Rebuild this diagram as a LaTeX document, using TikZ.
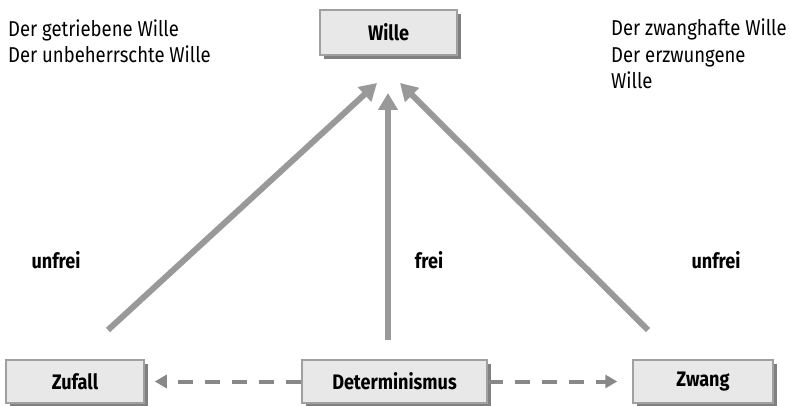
\documentclass[tikz,border=0pt]{standalone}
\usepackage{fontspec}
\setmainfont{Fira Sans}[FakeStretch=0.86]
\usetikzlibrary{arrows.meta,shadows}
\definecolor{boxfill}{HTML}{E8E8E8}
\definecolor{boxline}{HTML}{A0A0A0}
\definecolor{shadowc}{HTML}{808080}
\definecolor{arrowc}{HTML}{999999}
\definecolor{dashc}{HTML}{888888}
\tikzset{
  box/.style={draw=boxline, line width=1.5pt, fill=boxfill, inner sep=0pt,
    font=\fontsize{21}{24}\selectfont\bfseries,
    drop shadow={shadow xshift=4pt, shadow yshift=-4pt, fill=shadowc, opacity=1}},
  bigarrow/.style={draw=arrowc, line width=6pt, -{Triangle[length=17pt,width=19pt]}},
  dasharrow/.style={draw=dashc, line width=4pt, dash pattern=on 15pt off 12pt,
    -{Triangle[length=12pt,width=13pt]}},
  lbl/.style={font=\fontsize{21}{24}\selectfont\bfseries, anchor=base},
  side/.style={font=\fontsize{21.5}{26.5}\selectfont, anchor=base west, align=left, inner sep=0pt}
}
\begin{document}
\begin{tikzpicture}[x=1pt,y=-1pt]
\useasboundingbox (0,0) rectangle (790,406);
\node[box, minimum width=137pt, minimum height=45pt] (wille) at (388.5,32.5) {Wille};
\node[box, minimum width=138pt, minimum height=43pt] (zufall) at (75,381.5) {Zufall};
\node[box, minimum width=185pt, minimum height=43pt] (det) at (394.5,381.5) {Determinismus};
\node[box, minimum width=140pt, minimum height=43pt] (zwang) at (703,381.5) {Zwang};

\coordinate (ls) at (108,330);
\coordinate (lt) at (377,83);
\coordinate (ms) at (388,340);
\coordinate (mt) at (388,93);
\coordinate (rs) at (648,330);
\coordinate (rt) at (400,83);
\draw[bigarrow] (ls) -- (lt);
\draw[bigarrow] (ms) -- (mt);
\draw[bigarrow] (rs) -- (rt);

\draw[dasharrow, shorten >=10pt] (det.west) -- (zufall.east);
\draw[dasharrow, shorten >=15pt] (det.east) -- (zwang.west);

\node[lbl] (u1) at (56,269) {unfrei};
\node[lbl] (fr) at (429,269) {frei};
\node[lbl] (u2) at (716,269) {unfrei};

\node[side] (tl) at (8,63) {Der getriebene Wille\\Der unbeherrschte Wille};
\node[side] (tr) at (611,89) {Der zwanghafte Wille\\Der erzwungene\\Wille};
\end{tikzpicture}
\end{document}
